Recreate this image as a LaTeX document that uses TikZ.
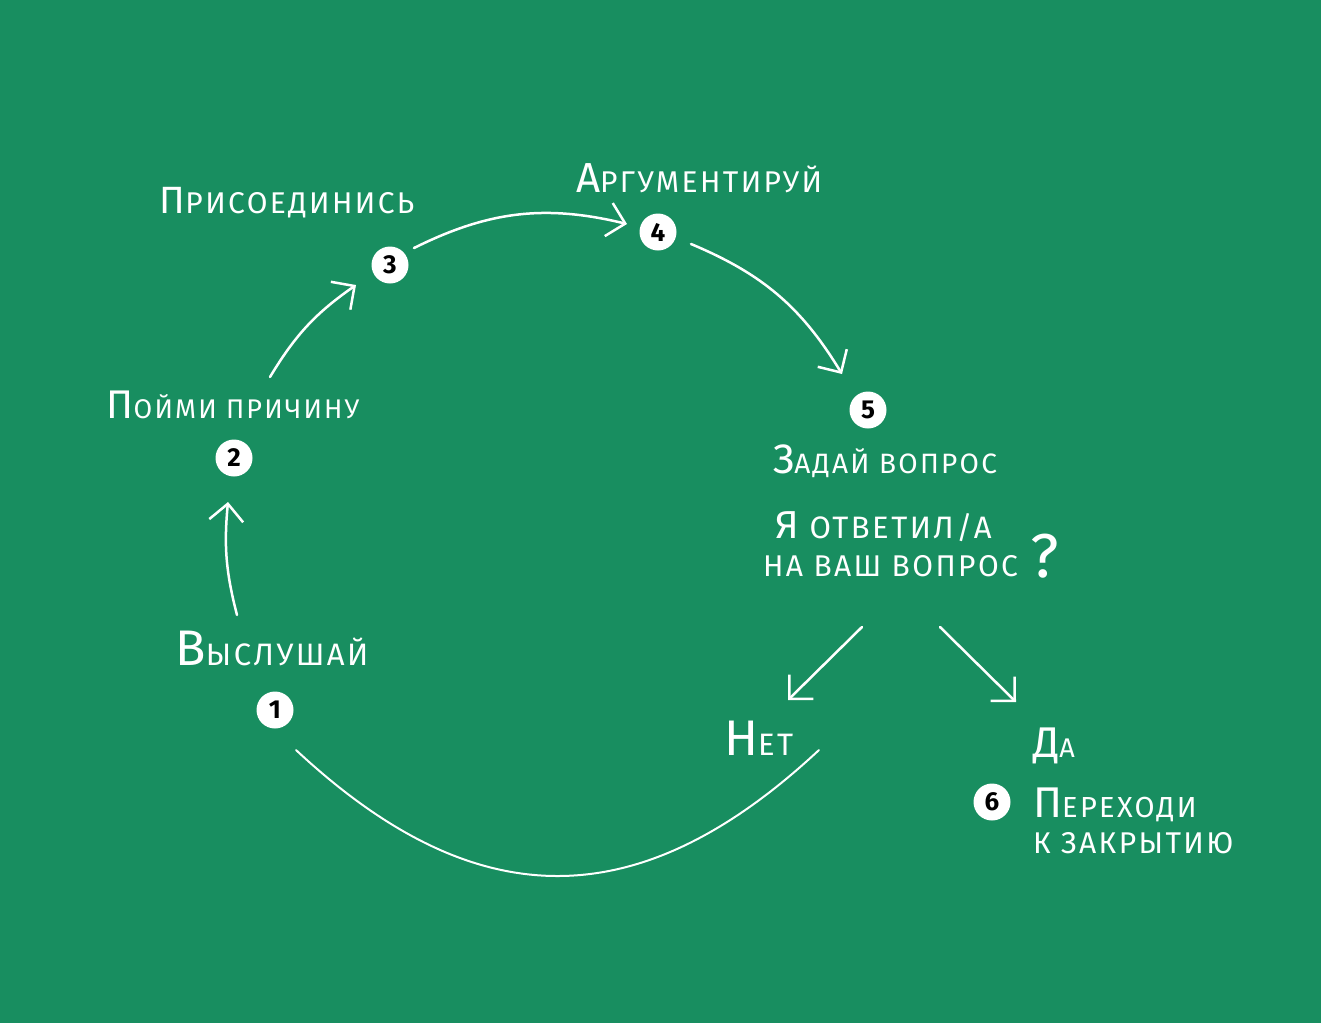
\documentclass[tikz,border=0pt]{standalone}
\usepackage{fontspec}
\setmainfont{Fira Sans}[LetterSpace=8]
\usetikzlibrary{arrows.meta,positioning}

\definecolor{board}{RGB}{24,142,96}

% big first letter, smaller rest
\newcommand{\initcap}[4]{{\fontsize{#1pt}{#1pt}\selectfont #2}{\fontsize{#3pt}{#3pt}\selectfont #4}}
\newcommand{\plaincap}[2]{{\fontsize{#1pt}{#1pt}\selectfont #2}}

\begin{document}
\begin{tikzpicture}[
  x=1pt, y=-1pt,
  numdot/.style={
    circle, fill=white, inner sep=0pt, minimum size=37pt,
    text=black, font=\fontsize{26pt}{26pt}\selectfont\bfseries
  },
  lbl/.style={text=white, inner sep=0pt},
  arr/.style={-{Straight Barb[length=17pt,width=34pt]}, draw=white,
    line width=2.5pt, line cap=round, line join=round},
  backline/.style={draw=white, line width=2pt, line cap=round}
]

% =============================================================
% board
% =============================================================
\fill[board] (0,0) rectangle (1321,1023);

% =============================================================
% numbered steps
% =============================================================
\node[numdot] (n1) at (275,710) {1};
\node[numdot] (n2) at (234,458) {2};
\node[numdot] (n3) at (390,265) {3};
\node[numdot] (n4) at (658,232) {4};
\node[numdot] (n5) at (868,410) {5};
\node[numdot] (n6) at (992,802) {6};

% =============================================================
% labels
% =============================================================
\node[lbl, anchor=base] (l1) at (272,665) {\initcap{50}{В}{31}{ЫСЛУШАЙ}};
\node[lbl, anchor=base] (l2) at (233,418) {\initcap{40}{П}{27}{ОЙМИ ПРИЧИНУ}};
\node[lbl, anchor=base] (l3) at (287,213) {\initcap{38}{П}{30}{РИСОЕДИНИСЬ}};
\node[lbl, anchor=base] (l4) at (699,192) {\initcap{42}{А}{30}{РГУМЕНТИРУЙ}};
\node[lbl, anchor=base] (l5) at (885,473) {\initcap{41}{З}{28}{АДАЙ ВОПРОС}};

% question
\node[lbl, anchor=base west] (q1) at (775,538) {\initcap{39}{Я}{31}{ ОТВЕТИЛ/А}};
\node[lbl, anchor=base west] (q2) at (763,576) {\plaincap{30}{НА ВАШ ВОПРОС}};
\node[lbl, anchor=base west] (qm) at (1030,577) {\plaincap{62}{?}};

% answers
\node[lbl, anchor=base west] (no)  at (724,755) {\initcap{50}{Н}{31}{ЕТ}};
\node[lbl, anchor=base west] (yes) at (1033,757) {\initcap{43}{Д}{27}{А}};
\node[lbl, anchor=base west] (go1) at (1033,817) {\initcap{43}{П}{29}{ЕРЕХОДИ}};
\node[lbl, anchor=base west] (go2) at (1033,853) {\plaincap{30}{К ЗАКРЫТИЮ}};

% =============================================================
% arrows
% =============================================================

% 1 -> 2
\draw[arr] ([shift={(-38,-95)}]n1.center) to[bend left=10]
   ([shift={(-6,44)}]n2.center);

% 2 -> 3
\draw[arr] ([shift={(36,-81)}]n2.center) to[bend left=12]
   ([shift={(-34,20)}]n3.center);

% 3 -> 4
\draw[arr] ([shift={(24,-17)}]n3.center) to[bend left=20]
   ([shift={(-31,-8)}]n4.center);

% 4 -> 5
\draw[arr] ([shift={(33,12)}]n4.center) to[bend left=18]
   ([shift={(-26,-36)}]n5.center);

% question -> no / yes
\draw[arr] ([shift={(99,51)}]q2.base west) -- ([shift={(64,-55)}]no.base west);
\draw[arr] ([shift={(177,51)}]q2.base west) -- ([shift={(-17,-55)}]yes.base west);

% no -> back to 1
\draw[backline] ([shift={(95,-5)}]no.base west)
   .. controls +(-180,168) and +(180,168) .. ([shift={(21,40)}]n1.center);

\end{tikzpicture}
\end{document}
